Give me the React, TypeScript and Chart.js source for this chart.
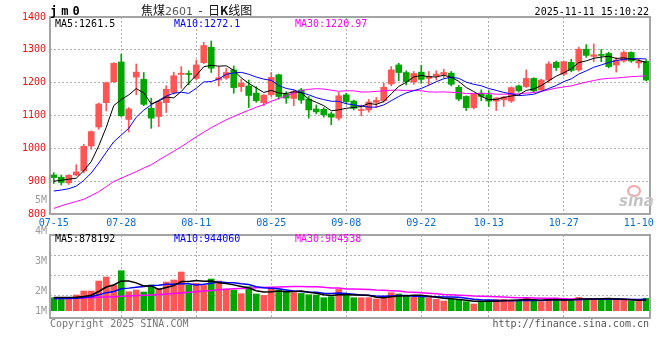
import React, { useEffect, useRef } from "react";
import { Chart, registerables } from "chart.js";

Chart.register(...registerables);

// ---------- data ----------
const dates = [
  "07-15","07-16","07-17","07-18","07-21","07-22","07-23","07-24","07-25","07-28",
  "07-29","07-30","07-31","08-01","08-04","08-05","08-06","08-07","08-08","08-11",
  "08-12","08-13","08-14","08-15","08-18","08-19","08-20","08-21","08-22","08-25",
  "08-26","08-27","08-28","08-29","09-01","09-02","09-03","09-04","09-05","09-08",
  "09-09","09-10","09-11","09-12","09-15","09-16","09-17","09-18","09-19","09-22",
  "09-23","09-24","09-25","09-26","09-29","09-30","10-09","10-10","10-13","10-14",
  "10-15","10-16","10-17","10-20","10-21","10-22","10-23","10-24","10-27","10-28",
  "10-29","10-30","10-31","11-03","11-04","11-05","11-06","11-07","11-10","11-11",
];
const axisDates = ["07-15","07-28","08-11","08-25","09-08","09-22","10-13","10-27","11-10"];

const opens = [
  919,912,895,919,931,1007,1065,1139,1203,1263,
  1088,1217,1210,1122,1097,1139,1170,1225,1227,1213,
  1261,1308,1208,1214,1239,1188,1190,1168,1139,1163,
  1224,1165,1152,1178,1150,1120,1119,1105,1092,1163,
  1144,1115,1117,1140,1145,1196,1254,1231,1202,1232,
  1213,1221,1225,1229,1186,1158,1124,1168,1163,1144,
  1148,1144,1190,1188,1213,1178,1208,1262,1226,1262,
  1239,1302,1280,1285,1289,1254,1266,1292,1260,1265,
];
const highs = [
  926,919,920,950,1012,1053,1138,1202,1261,1287,
  1124,1257,1231,1153,1145,1191,1232,1249,1236,1269,
  1323,1327,1249,1244,1251,1210,1208,1188,1164,1231,
  1226,1173,1178,1183,1158,1132,1124,1110,1170,1168,
  1147,1132,1149,1155,1198,1249,1259,1236,1234,1253,
  1234,1236,1241,1234,1192,1160,1167,1178,1175,1155,
  1158,1187,1193,1239,1215,1211,1264,1266,1266,1271,
  1308,1316,1318,1301,1293,1276,1297,1294,1272,1270,
];
const lows = [
  893,888,890,916,925,997,1058,1114,1200,1097,
  1050,1163,1130,1061,1066,1109,1165,1183,1193,1208,
  1258,1231,1190,1210,1168,1173,1124,1140,1130,1158,
  1150,1137,1130,1137,1092,1105,1095,1072,1086,1135,
  1117,1099,1110,1124,1140,1190,1206,1193,1195,1198,
  1193,1208,1215,1190,1145,1115,1120,1145,1127,1115,
  1128,1140,1171,1185,1170,1172,1200,1237,1221,1233,
  1235,1277,1264,1264,1245,1232,1262,1262,1245,1205,
];
const closes = [
  911,896,918,928,1006,1051,1135,1200,1259,1099,
  1120,1232,1134,1092,1142,1180,1221,1229,1225,1254,
  1313,1244,1215,1231,1185,1198,1161,1145,1162,1216,
  1158,1153,1173,1147,1117,1111,1102,1095,1160,1142,
  1122,1118,1141,1146,1186,1239,1231,1203,1228,1210,
  1219,1226,1231,1195,1150,1124,1165,1158,1144,1153,
  1156,1185,1175,1213,1175,1208,1257,1246,1264,1237,
  1302,1283,1285,1283,1249,1269,1292,1266,1265,1208,
];
const ma5 = [
  900,903,906,909,931.8,959.8,1007.6,1064,1130.2,1148.8,
  1162.6,1182,1168.8,1135.4,1144,1156,1153.8,1172.8,1199.4,1221.8,
  1248.4,1253,1250.2,1251.4,1237.6,1214.6,1198,1184,1170.2,1176.4,
  1168.4,1166.8,1172.4,1169.4,1149.6,1140.2,1130,1114.4,1117,1122,
  1124.2,1127.4,1136.6,1133.8,1142.6,1166,1188.6,1201,1217.4,1222.2,
  1218.2,1217.2,1222.8,1216.2,1204.2,1185.2,1173,1158.4,1148.2,1148.8,
  1155.2,1159.2,1162.6,1176.4,1180.8,1191.2,1205.6,1219.8,1230,1242.4,
  1261.2,1266.4,1274.2,1278,1280.4,1273.8,1275.6,1271.8,1268.2,1261.5,
];
const ma10 = [
  870,873,877,885,902,925,955,988,1020,1040.3,
  1061.2,1094.8,1116.4,1132.8,1146.4,1159.3,1167.9,1170.8,1167.4,1182.9,
  1202.2,1203.4,1211.5,1225.4,1229.7,1231.5,1225.5,1217.1,1210.8,1207,
  1191.5,1182.4,1178.2,1169.8,1163,1154.3,1148.4,1143.4,1143.2,1135.8,
  1132.2,1128.7,1125.5,1125.4,1132.3,1145.1,1158,1168.8,1175.6,1182.4,
  1192.1,1202.9,1211.9,1216.8,1213.2,1201.7,1195.1,1190.6,1182.2,1176.5,
  1170.2,1166.1,1160.5,1162.3,1164.8,1173.2,1182.4,1191.2,1203.2,1211.6,
  1226.2,1236,1247,1254,1261.4,1267.5,1271,1273,1273.1,1272.1,
];
const ma30 = [
  817,825,832,838,845,856,868,883,899,909,
  919,929,940,950,964,978,991,1005,1020,1035,
  1049,1063,1075,1087,1097,1107,1116,1125,1133,1143.4,
  1151.6,1160.2,1168.7,1176,1179.7,1181.7,1180.6,1177.1,1173.8,1175.2,
  1175.3,1171.5,1171.7,1173.5,1175,1177,1177.3,1176.4,1176.5,1175.1,
  1171.9,1171.3,1171.9,1170.7,1169.5,1167,1167.2,1167.6,1167,1164.9,
  1164.8,1165.9,1166,1168.2,1170.1,1173.3,1178.5,1183.5,1187,1190.2,
  1196.2,1201.7,1206.5,1211,1213.1,1214.1,1216.2,1218.3,1219.5,1220.97,
];
const volumes = [
  1066000,927000,927000,1287000,1615000,1615000,2435000,2763000,2107000,3280000,
  1558000,1697000,1533000,2107000,1829000,2353000,2517000,3173000,2107000,2239000,
  2075000,2599000,2435000,1779000,1697000,1394000,1968000,1369000,1255000,1829000,
  1697000,1615000,1476000,1419000,1312000,1287000,1066000,1148000,1747000,1369000,
  1066000,1066000,1066000,959000,1148000,1476000,1369000,1205000,1091000,1205000,
  1066000,927000,795000,959000,877000,738000,549000,795000,877000,927000,
  927000,795000,877000,1091000,795000,738000,1009000,1009000,877000,795000,
  1091000,1009000,1009000,1009000,877000,927000,877000,795000,795000,1009000,
];
const volMa5 = [
  1090000,1090000,1090000,1100000,1164000,1274000,1576000,1943000,2107000,2440000,
  2429000,2281000,2035000,2035000,1745000,1904000,2068000,2396000,2396000,2478000,
  2422000,2439000,2291000,2225000,2117000,1981000,1855000,1641000,1537000,1563000,
  1624000,1553000,1574000,1607000,1504000,1422000,1312000,1246000,1312000,1323000,
  1279000,1279000,1263000,1105000,1061000,1143000,1204000,1231000,1258000,1269000,
  1187000,1099000,1017000,990000,925000,859000,784000,784000,767000,777000,
  815000,864000,881000,923000,897000,859000,902000,928000,886000,886000,
  956000,956000,956000,983000,999000,966000,940000,897000,854000,878192,
];
const volMa10 = [
  990000,995000,1000000,1030000,1090000,1150000,1300000,1480000,1580000,1802000,
  1851000,1928000,1989000,2071000,2092000,2166000,2174000,2215000,2215000,2111000,
  2163000,2253000,2343000,2311000,2297000,2202000,2147000,1966000,1881000,1840000,
  1802000,1704000,1608000,1572000,1533000,1523000,1433000,1410000,1460000,1414000,
  1351000,1296000,1255000,1209000,1192000,1211000,1241000,1247000,1182000,1165000,
  1165000,1151000,1124000,1124000,1097000,1023000,941000,900000,879000,851000,
  837000,824000,832000,845000,837000,837000,883000,905000,905000,891000,
  908000,929000,942000,934000,942000,961000,948000,927000,918000,944060,
];
const volMa30 = [
  1000000,1010000,1020000,1035000,1050000,1070000,1095000,1120000,1150000,1185000,
  1215000,1245000,1270000,1295000,1330000,1370000,1410000,1460000,1510000,1560000,
  1610000,1660000,1710000,1750000,1790000,1820000,1850000,1875000,1900000,1918000,
  1939000,1962000,1980000,1985000,1974000,1963000,1918000,1864000,1852000,1788000,
  1772000,1751000,1735000,1697000,1674000,1645000,1607000,1541000,1507000,1473000,
  1439000,1384000,1329000,1302000,1274000,1252000,1205000,1186000,1173000,1143000,
  1118000,1090000,1070000,1059000,1042000,1024000,1022000,1017000,988000,969000,
  970000,968000,966000,968000,959000,941000,924000,910000,901000,904538,
];
const volAxisLabels = ["5M", "4M", "3M", "2M", "1M"];
const volGridTicks = [1262800, 2902800, 4542800];

// ---------- styles ----------
const UP = "#ff5555";
const DOWN = "#00a600";
const MONO = "'DejaVu Sans Mono', 'Liberation Mono', monospace";
const GRID = "#b0b0b0";

const candleColors = closes.map((c, i) => (c >= opens[i] ? UP : DOWN));
const gridDates = axisDates.slice(1, -1);
const vGridColor = (ctx: any) =>
  gridDates.includes(dates[ctx.index]) ? GRID : "rgba(0,0,0,0)";

const boxPlugin = {
  id: "box",
  afterDraw(chart: any) {
    const { ctx, chartArea: a } = chart;
    ctx.save();
    ctx.strokeStyle = "#a4a4a4";
    ctx.lineWidth = 2;
    ctx.strokeRect(a.left, a.top, a.right - a.left, a.bottom - a.top);
    ctx.restore();
  },
};

const volLabelPlugin = {
  id: "volLabels",
  afterDraw(chart: any) {
    const { ctx, chartArea: a } = chart;
    const offs = [-35, -4, 26, 56, 76];
    ctx.save();
    ctx.fillStyle = "#9c9c9c";
    ctx.font = `10px ${MONO}`;
    ctx.textAlign = "right";
    ctx.textBaseline = "middle";
    volAxisLabels.forEach((t, k) => ctx.fillText(t, a.left - 3, a.top + offs[k]));
    ctx.restore();
  },
};

const lineDs = (label: string, data: number[], color: string, width: number) => ({
  type: "line" as const,
  label,
  data,
  borderColor: color,
  borderWidth: width,
  pointRadius: 0,
  tension: 0,
  fill: false,
  order: 0,
});

const T = (p: any) => (
  <div
    style={{
      position: "absolute",
      top: p.y - 7,
      height: 14,
      lineHeight: "14px",
      fontSize: p.size || 10,
      fontFamily: p.family || MONO,
      fontWeight: p.weight || "normal",
      letterSpacing: p.ls || 0,
      color: p.color || "#000",
      whiteSpace: "pre",
      ...(p.right !== undefined ? { right: 660 - p.right } : { left: p.x }),
    }}
  >
    {p.children}
  </div>
);

export default function App() {
  const priceRef = useRef<HTMLCanvasElement>(null);
  const volRef = useRef<HTMLCanvasElement>(null);

  useEffect(() => {
    const price = new Chart(priceRef.current as HTMLCanvasElement, {
      type: "bar",
      data: {
        labels: dates,
        datasets: [
          lineDs("MA5", ma5, "#000000", 1),
          lineDs("MA10", ma10, "#0000ff", 1),
          lineDs("MA30", ma30, "#ff00ff", 1),
          {
            type: "bar",
            label: "body",
            data: opens.map((o, i) => [o, closes[i]]) as any,
            backgroundColor: candleColors,
            barThickness: 6,
            grouped: false,
            minBarLength: 1,
            borderWidth: 0,
            order: 1,
          } as any,
          {
            type: "bar",
            label: "wick",
            data: lows.map((l, i) => [l, highs[i]]) as any,
            backgroundColor: candleColors,
            barThickness: 1,
            grouped: false,
            borderWidth: 0,
            order: 2,
          } as any,
        ],
      },
      options: {
        responsive: false,
        animation: false,
        events: [],
        layout: { padding: { top: 17, right: 10, bottom: 126, left: 0 } },
        plugins: { legend: { display: false }, tooltip: { enabled: false } },
        scales: {
          x: {
            offset: true,
            grid: { offset: false, color: vGridColor, lineWidth: 1, drawTicks: false },
            border: { display: false, dash: [2, 2] },
            ticks: {
              autoSkip: false,
              maxRotation: 0,
              minRotation: 0,
              padding: 3,
              color: "#0a6ccc",
              font: { family: MONO, size: 10 },
              callback: (_v: any, i: number) => (axisDates.includes(dates[i]) ? dates[i] : ""),
            },
            afterFit: (s: any) => {
              s.height = 20;
            },
          },
          y: {
            min: 800,
            max: 1400,
            ticks: {
              stepSize: 100,
              color: "#ee1111",
              padding: 4,
              font: { family: MONO, size: 10 },
              callback: (v: any) => String(v),
            },
            grid: { color: GRID, lineWidth: 1, drawTicks: false },
            border: { display: false, dash: [2, 2] },
            afterFit: (s: any) => {
              s.width = 50;
            },
          },
        },
      } as any,
      plugins: [boxPlugin],
    });

    const vol = new Chart(volRef.current as HTMLCanvasElement, {
      type: "bar",
      data: {
        labels: dates,
        datasets: [
          lineDs("MA5", volMa5, "#000000", 1.5),
          lineDs("MA10", volMa10, "#0000ff", 1.5),
          lineDs("MA30", volMa30, "#ff00ff", 1.5),
          {
            type: "bar",
            label: "volume",
            data: volumes,
            backgroundColor: candleColors,
            barThickness: 6,
            borderWidth: 0,
            order: 1,
          } as any,
        ],
      },
      options: {
        responsive: false,
        animation: false,
        events: [],
        layout: { padding: { top: 235, right: 10, bottom: 42, left: 0 } },
        plugins: { legend: { display: false }, tooltip: { enabled: false } },
        scales: {
          x: {
            offset: true,
            grid: { offset: false, color: vGridColor, lineWidth: 1, drawTicks: false },
            border: { display: false, dash: [2, 2] },
            ticks: { display: false, autoSkip: false, maxRotation: 0, minRotation: 0 },
            afterFit: (s: any) => {
              s.height = 0;
            },
          },
          y: {
            min: -598600,
            max: 6207400,
            ticks: { display: false },
            grid: { color: GRID, lineWidth: 1, drawTicks: false },
            border: { display: false, dash: [2, 2] },
            afterBuildTicks: (s: any) => {
              s.ticks = volGridTicks.map((v) => ({ value: v }));
            },
            afterFit: (s: any) => {
              s.width = 50;
            },
          },
        },
      } as any,
      plugins: [boxPlugin, volLabelPlugin],
    });

    return () => {
      price.destroy();
      vol.destroy();
    };
  }, []);

  const last = dates.length - 1;

  return (
    <div
      style={{
        position: "fixed",
        left: 0,
        top: 0,
        width: 660,
        height: 360,
        background: "#fff",
        overflow: "hidden",
      }}
    >
      <canvas ref={priceRef} width={660} height={360} style={{ position: "absolute", left: 0, top: 0 }} />
      <canvas ref={volRef} width={660} height={360} style={{ position: "absolute", left: 0, top: 0 }} />

      <T x={50} y={11} size={12} weight="bold" ls={4}>jm0</T>
      <T x={141} y={10} size={12} family="'Noto Sans CJK SC', sans-serif" color="#111">
        焦煤<span style={{ fontFamily: "'DejaVu Sans', sans-serif", fontSize: 11, color: "#555" }}>2601</span>
        {"  -  "}日<b>K</b>线图
      </T>
      <T right={649} y={12}>2025-11-11 15:10:22</T>

      <T x={55} y={24}>{`MA5:${ma5[last]}`}</T>
      <T x={174} y={24} color="#0000ff">{`MA10:${ma10[last]}`}</T>
      <T x={295} y={24} color="#ff00ff">{`MA30:${ma30[last]}`}</T>

      <T x={55} y={239}>{`MA5:${volMa5[last]}`}</T>
      <T x={174} y={239} color="#0000ff">{`MA10:${volMa10[last]}`}</T>
      <T x={295} y={239} color="#ff00ff">{`MA30:${volMa30[last]}`}</T>

      <T x={50} y={324} color="#777">Copyright 2025 SINA.COM</T>
      <T right={649} y={324} color="#555">http://finance.sina.com.cn</T>

      <div
        style={{
          position: "absolute",
          left: 627,
          top: 185,
          width: 10,
          height: 8,
          borderRadius: "50%",
          border: "2px solid #f4a6a6",
        }}
      />
      <T x={619} y={201} size={15} weight="bold" family="'DejaVu Sans', sans-serif" color="#c4c4c4">
        <i>sina</i>
      </T>
    </div>
  );
}
